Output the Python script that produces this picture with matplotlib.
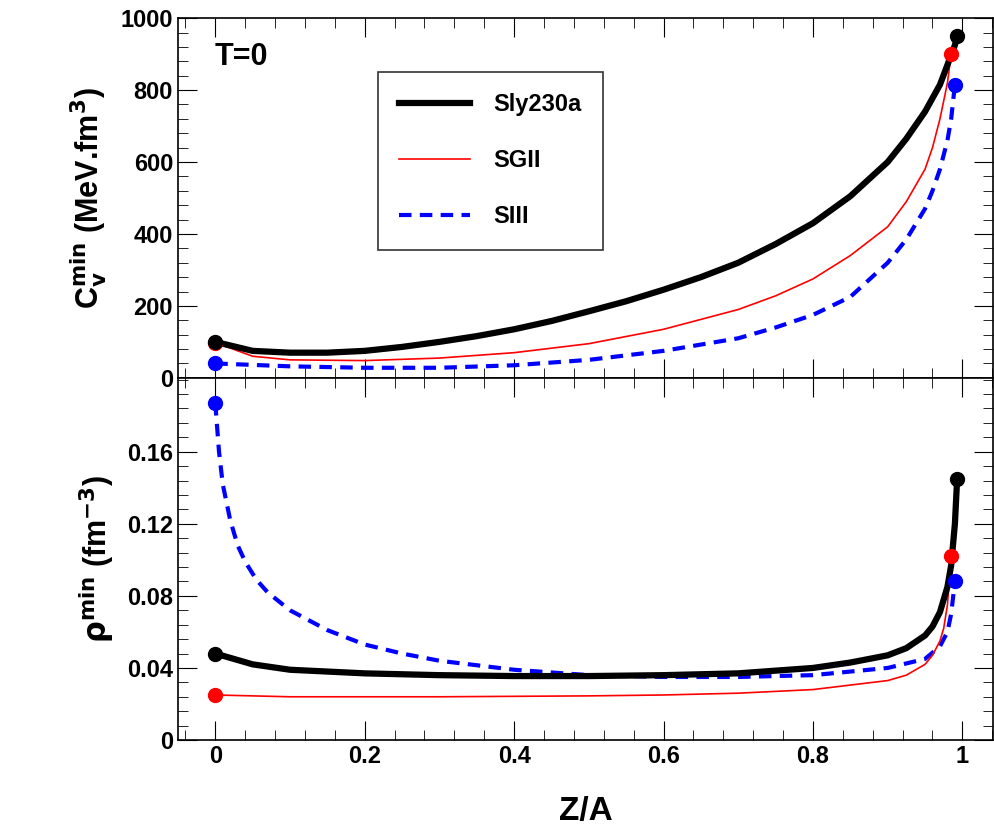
import matplotlib
matplotlib.use("Agg")
import matplotlib.pyplot as plt
from matplotlib.ticker import MultipleLocator

plt.rcParams['font.family'] = ['Liberation Sans', 'DejaVu Sans']
plt.rcParams['font.weight'] = 'bold'
plt.rcParams['mathtext.default'] = 'bf'

# top panel: C_v^min
x_sly_c = [0, 0.05, 0.1, 0.15, 0.2, 0.25, 0.3, 0.35, 0.4, 0.45, 0.5, 0.55, 0.6, 0.65, 0.7,
           0.75, 0.8, 0.85, 0.9, 0.925, 0.95, 0.97, 0.98, 0.99, 0.993]
y_sly_c = [100, 75, 70, 70, 75, 86, 100, 116, 135, 158, 185, 213, 245, 280, 320,
           372, 430, 505, 600, 665, 740, 815, 870, 925, 950]
x_sg_c = [0, 0.05, 0.1, 0.2, 0.3, 0.4, 0.5, 0.6, 0.7, 0.75, 0.8, 0.85, 0.9, 0.925, 0.95,
          0.96, 0.97, 0.98, 0.985]
y_sg_c = [98, 60, 50, 48, 55, 70, 95, 135, 190, 228, 275, 340, 420, 490, 580,
          640, 720, 820, 900]
x_s3_c = [0, 0.1, 0.2, 0.3, 0.4, 0.5, 0.6, 0.7, 0.75, 0.8, 0.85, 0.9, 0.925, 0.95, 0.96,
          0.97, 0.98, 0.985, 0.99]
y_s3_c = [40, 32, 28, 28, 35, 50, 75, 110, 140, 175, 225, 320, 385, 470, 520,
          580, 660, 720, 815]

# bottom panel: rho^min
x_sly_r = [0, 0.05, 0.1, 0.2, 0.3, 0.4, 0.5, 0.6, 0.7, 0.8, 0.85, 0.9, 0.925, 0.95, 0.96,
           0.97, 0.98, 0.985, 0.99, 0.993]
y_sly_r = [0.048, 0.042, 0.039, 0.037, 0.036, 0.0355, 0.0355, 0.036, 0.037, 0.040, 0.043,
           0.047, 0.051, 0.058, 0.063, 0.071, 0.085, 0.097, 0.12, 0.145]
x_sg_r = [0, 0.1, 0.3, 0.5, 0.6, 0.7, 0.8, 0.9, 0.925, 0.95, 0.96, 0.97, 0.975, 0.98, 0.985]
y_sg_r = [0.025, 0.024, 0.024, 0.0245, 0.025, 0.026, 0.028, 0.033, 0.036, 0.042, 0.047,
          0.055, 0.062, 0.075, 0.102]
x_s3_r = [0, 0.005, 0.01, 0.02, 0.03, 0.04, 0.055, 0.07, 0.1, 0.15, 0.2, 0.25, 0.3, 0.4,
          0.5, 0.6, 0.7, 0.8, 0.9, 0.95, 0.97, 0.98, 0.985, 0.99]
y_s3_r = [0.187, 0.16, 0.142, 0.122, 0.108, 0.099, 0.089, 0.082, 0.072, 0.061, 0.053,
          0.048, 0.044, 0.039, 0.036, 0.035, 0.035, 0.036, 0.040, 0.045, 0.052, 0.060,
          0.070, 0.088]

fig = plt.figure(figsize=(9.94, 8.25), dpi=100)
ax1 = fig.add_axes([0.179, 0.542, 0.820, 0.436])
ax2 = fig.add_axes([0.179, 0.103, 0.820, 0.439])

series = [
    ('Sly230a', 'black', '-', 4.5, 5),
    ('SGII', 'red', '-', 1.2, 4),
    ('SIII', 'blue', '--', 3, 3),
]
top = [(x_sly_c, y_sly_c), (x_sg_c, y_sg_c), (x_s3_c, y_s3_c)]
bot = [(x_sly_r, y_sly_r), (x_sg_r, y_sg_r), (x_s3_r, y_s3_r)]

for ax, data in [(ax1, top), (ax2, bot)]:
    for (name, c, ls, lw, z), (xs, ys) in zip(series, data):
        if ls == '--':
            ax.plot(xs, ys, color=c, lw=lw, label=name, dashes=(3, 2), zorder=z)
        else:
            ax.plot(xs, ys, color=c, lw=lw, label=name, zorder=z)
        ax.plot([xs[0], xs[-1]], [ys[0], ys[-1]], 'o', color=c, ms=10, ls='none', zorder=z + 3)
    ax.set_xlim(-0.05, 1.041)
    ax.set_xticks([0, 0.2, 0.4, 0.6, 0.8, 1.0])
    ax.set_xticklabels(['0', '0.2', '0.4', '0.6', '0.8', '1'])
    ax.xaxis.set_minor_locator(MultipleLocator(0.04))
    ax.tick_params(which='both', direction='in', top=True, right=True, labelsize=17)
    ax.tick_params(which='major', length=14)
    ax.tick_params(which='minor', length=7)
    for s in ax.spines.values():
        s.set_linewidth(1.2)

ax1.set_ylim(0, 1000)
ax1.yaxis.set_major_locator(MultipleLocator(200))
ax1.yaxis.set_minor_locator(MultipleLocator(40))
ax1.tick_params(labelbottom=False)
ax1.set_ylabel(r'C$_{\rm v}^{\rm min}$ (MeV.fm$^{3}$)', fontsize=22, labelpad=8,
               fontweight='bold')
ax1.text(0.045, 0.87, 'T=0', transform=ax1.transAxes, fontsize=22, fontweight='bold')
leg = ax1.legend(loc='upper left', bbox_to_anchor=(0.245, 0.85), fontsize=17,
                 frameon=True, fancybox=False, edgecolor='black', handlelength=3.0,
                 labelspacing=1.4, borderpad=0.9, handletextpad=1.0, borderaxespad=0)
leg.get_frame().set_linewidth(1.2)

ax2.set_ylim(0, 0.201)
ax2.set_yticks([0, 0.04, 0.08, 0.12, 0.16])
ax2.set_yticklabels(['0', '0.04', '0.08', '0.12', '0.16'])
ax2.yaxis.set_minor_locator(MultipleLocator(0.008))
ax2.set_ylabel(r'$\rho^{\rm min}$ (fm$^{-3}$)', fontsize=22, labelpad=8, fontweight='bold')
ax2.set_xlabel('Z/A', fontsize=24, labelpad=20, fontweight='bold')

fig.savefig('out.png', dpi=100)
